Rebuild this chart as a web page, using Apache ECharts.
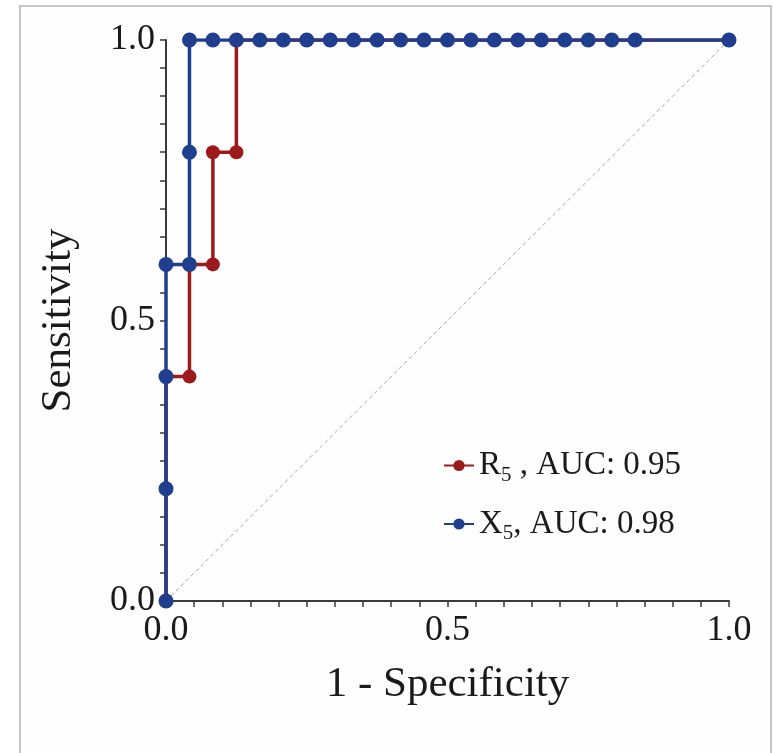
<!DOCTYPE html>
<html>
<head>
<meta charset="utf-8">
<script src="https://cdn.jsdelivr.net/npm/echarts@6/dist/echarts.min.js"></script>
<style>
  html, body { margin: 0; padding: 0; background: #ffffff; }
  #chart { width: 773px; height: 753px; }
</style>
</head>
<body>
<div id="chart"></div>
<script>
// ROC curves: 1 - specificity (x) against sensitivity (y)
const fprR5 = [0, 0, 0, 0.0417, 0.0417, 0.0833, 0.0833, 0.125, 0.125, 0.1667, 0.2083, 0.25, 0.2917, 0.3333, 0.375, 0.4167, 0.4583, 0.5, 0.5417, 0.5833, 0.625, 0.6667, 0.7083, 0.75, 0.7917, 0.8333, 1.0];
const tprR5 = [0, 0.2, 0.4, 0.4, 0.6, 0.6, 0.8, 0.8, 1.0, 1.0, 1.0, 1.0, 1.0, 1.0, 1.0, 1.0, 1.0, 1.0, 1.0, 1.0, 1.0, 1.0, 1.0, 1.0, 1.0, 1.0, 1.0];

const fprX5 = [0, 0, 0, 0, 0.0417, 0.0417, 0.0417, 0.0833, 0.125, 0.1667, 0.2083, 0.25, 0.2917, 0.3333, 0.375, 0.4167, 0.4583, 0.5, 0.5417, 0.5833, 0.625, 0.6667, 0.7083, 0.75, 0.7917, 0.8333, 1.0];
const tprX5 = [0, 0.2, 0.4, 0.6, 0.6, 0.8, 1.0, 1.0, 1.0, 1.0, 1.0, 1.0, 1.0, 1.0, 1.0, 1.0, 1.0, 1.0, 1.0, 1.0, 1.0, 1.0, 1.0, 1.0, 1.0, 1.0, 1.0];

// reference line of a random classifier
const chanceX = [0, 1];
const chanceY = [0, 1];

const labeledTicks = [0, 0.5, 1.0];
const aucR5 = 0.95;
const aucX5 = 0.98;

const zip = (xs, ys) => xs.map((x, i) => [x, ys[i]]);

const serif = '"Liberation Serif", "DejaVu Serif", serif';
const axisColor = '#3a3a3a';
const red = '#9c1a1c';
const blue = '#1f3e8e';

const tickFormatter = v => labeledTicks.some(t => Math.abs(t - v) < 1e-6) ? v.toFixed(1) : '';

const axisCommon = {
  type: 'value',
  min: 0,
  max: 1,
  interval: 0.05,
  splitLine: { show: false },
  axisLine: { show: true, onZero: false, lineStyle: { color: axisColor, width: 2 } },
  axisTick: { show: true, inside: false, length: 6, lineStyle: { color: axisColor, width: 1.5 } },
  axisLabel: { formatter: tickFormatter, fontFamily: serif, fontSize: 36, color: '#1a1a1a', showMinLabel: true, showMaxLabel: true },
  nameLocation: 'middle',
  nameTextStyle: { fontFamily: serif, fontSize: 43, color: '#1a1a1a' }
};

const legendRich = {
  a: { fontFamily: serif, fontSize: 33, color: '#1a1a1a', lineHeight: 40, verticalAlign: 'middle' },
  s: { fontFamily: serif, fontSize: 21, color: '#1a1a1a', lineHeight: 22, verticalAlign: 'bottom' }
};

const chart = echarts.init(document.getElementById('chart'), null, { renderer: 'canvas' });
chart.setOption({
  backgroundColor: '#ffffff',
  animation: false,
  graphic: [{
    type: 'rect',
    shape: { x: 20, y: 6, width: 751, height: 760 },
    style: { fill: '#fefefe', stroke: '#c4c4c4', lineWidth: 2 },
    z: -10,
    silent: true
  }],
  grid: { left: 166, right: 44, top: 40, bottom: 152, containLabel: false },
  xAxis: Object.assign({}, axisCommon, {
    name: '1 - Specificity',
    nameGap: 62,
    axisLabel: Object.assign({}, axisCommon.axisLabel, { margin: 12 })
  }),
  yAxis: Object.assign({}, axisCommon, {
    name: 'Sensitivity',
    nameGap: 86,
    axisLabel: Object.assign({}, axisCommon.axisLabel, { margin: 11 })
  }),
  legend: {
    data: ['R5', 'X5'],
    orient: 'vertical',
    left: 438,
    top: 444,
    itemGap: 22,
    itemWidth: 30,
    itemHeight: 14,
    formatter: name => {
      const auc = name === 'R5' ? aucR5 : aucX5;
      const sep = name === 'R5' ? ' , ' : ', ';
      return '{a|' + name.charAt(0) + '}{s|' + name.slice(1) + '}{a|' + sep + 'AUC: ' + auc.toFixed(2) + '}';
    },
    textStyle: { rich: legendRich }
  },
  series: [
    {
      name: 'chance',
      type: 'line',
      data: zip(chanceX, chanceY),
      symbol: 'none',
      silent: true,
      lineStyle: { color: '#a8a8a8', width: 1, type: [4, 3] },
      z: 1
    },
    {
      name: 'R5',
      type: 'line',
      data: zip(fprR5, tprR5),
      symbol: 'circle',
      symbolSize: 14,
      itemStyle: { color: red },
      lineStyle: { color: red, width: 3.5 },
      z: 2
    },
    {
      name: 'X5',
      type: 'line',
      data: zip(fprX5, tprX5),
      symbol: 'circle',
      symbolSize: 15,
      itemStyle: { color: blue },
      lineStyle: { color: blue, width: 3.5 },
      z: 3
    }
  ]
});
</script>
</body>
</html>
